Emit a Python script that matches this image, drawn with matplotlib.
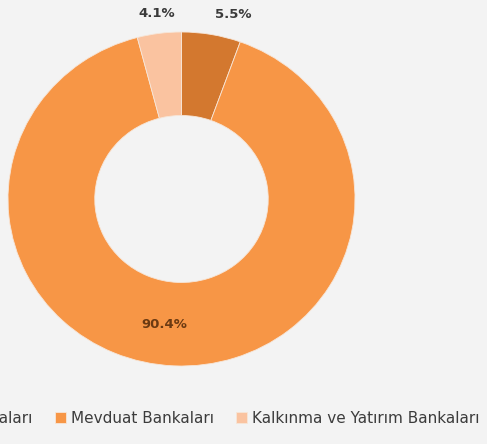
import numpy as np
import matplotlib
matplotlib.use("Agg")
import matplotlib.pyplot as plt

# dilim verileri
kategoriler = ["Katılım Bankaları", "Mevduat Bankaları", "Kalkınma ve Yatırım Bankaları"]
paylar = [5.5, 90.4, 4.1]
renkler = ["#d3782f", "#f79646", "#fac3a0"]
etiketler = ["5.5%", "90.4%", "4.1%"]

W, H = 487, 444
fig = plt.figure(figsize=(W / 100, H / 100), dpi=100, facecolor="#f3f3f3")
ax = fig.add_axes([8 / W, 1 - 366 / H, 347 / W, 334 / H])
ax.set_facecolor("none")

wedges, _ = ax.pie(paylar, colors=renkler, startangle=90, counterclock=False,
                   radius=1.0, wedgeprops=dict(width=0.5, edgecolor="#f7e6d8", linewidth=0.6))
ax.set_aspect("auto")
ax.set_xlim(-1, 1)
ax.set_ylim(-1, 1)
ax.axis("off")

# etiketler
for w, et in zip(wedges, etiketler):
    aci = np.deg2rad((w.theta1 + w.theta2) / 2)
    if w.theta2 - w.theta1 > 100:
        r, renk, ha = 0.76, "#6b3a12", "center"
        aci = aci - np.deg2rad(5)
    else:
        r, renk = 1.12, "#3a3a3a"
        ha = "left" if np.cos(aci) > 0.1 else "center"
    ax.text(r * np.cos(aci), r * np.sin(aci), et, ha=ha, va="center",
            fontsize=9.5, fontweight="bold", color=renk, clip_on=False)

# lejant - soldan kesik, orijinaldeki gibi
leg = fig.legend(wedges, kategoriler, loc="center left", ncol=3,
                 bbox_to_anchor=(0, (H - 418) / H),
                 frameon=False, fontsize=11, handlelength=0.7, handleheight=0.7,
                 handletextpad=0.35, columnspacing=1.45, borderpad=0, borderaxespad=0)
for t in leg.get_texts():
    t.set_color("#3c3c3c")

fig.canvas.draw()
kutu = leg.legend_handles[1].get_window_extent()
kayma = (55 - kutu.x0) / W
leg.set_bbox_to_anchor((kayma, (H - 418) / H), transform=fig.transFigure)

fig.savefig("out.png", dpi=100, facecolor=fig.get_facecolor())
